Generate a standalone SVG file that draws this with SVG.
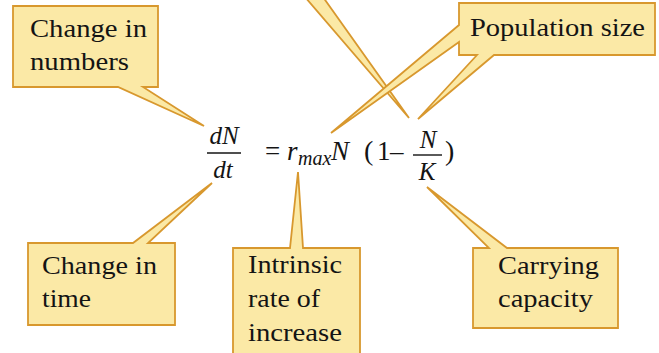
<svg xmlns="http://www.w3.org/2000/svg" width="659" height="353" viewBox="0 0 659 353">
<style>
.callout{fill:#fbe9a6;stroke:#d8982e;stroke-width:1.8;stroke-linejoin:miter}
text{font-family:'Liberation Serif',Tinos,'Noto Serif','DejaVu Serif',Times,FreeSerif,'Nimbus Roman',serif;fill:#141414}
.lbl{font-size:26px}
.i{font-style:italic}
.bar{stroke:#141414;stroke-width:1.4}
</style>
<rect width="659" height="353" fill="#ffffff"/>
<g id="connectors">
<path class="callout" d="M299,-10 L409,118 L318,-10 Z"/>
</g>
<g id="change-in-numbers">
<path class="callout" d="M13,6 H158 V87 H143 L204,126 L118,87 H13 Z"/>
<text class="lbl" x="30" y="37" textLength="117" lengthAdjust="spacingAndGlyphs">Change in</text>
<text class="lbl" x="30" y="70" textLength="99" lengthAdjust="spacingAndGlyphs">numbers</text>
</g>
<g id="population-size">
<path class="callout" d="M459,3 H655 V55 H494 L418,119 L477,55 H459 V42 L331,133 L459,25 Z"/>
<text class="lbl" x="470" y="36" textLength="175" lengthAdjust="spacingAndGlyphs">Population size</text>
</g>
<g id="change-in-time">
<path class="callout" d="M28,243 H133 L212,183 L148,243 H175 V325 H28 Z"/>
<text class="lbl" x="42" y="274" textLength="115" lengthAdjust="spacingAndGlyphs">Change in</text>
<text class="lbl" x="42" y="307" textLength="49" lengthAdjust="spacingAndGlyphs">time</text>
</g>
<g id="intrinsic-rate">
<path class="callout" d="M233,248 H290 L298,172 L303,248 H360 V362 H233 Z"/>
<text class="lbl" x="248" y="273" textLength="94" lengthAdjust="spacingAndGlyphs">Intrinsic</text>
<text class="lbl" x="248" y="307" textLength="72" lengthAdjust="spacingAndGlyphs">rate of</text>
<text class="lbl" x="248" y="341" textLength="94" lengthAdjust="spacingAndGlyphs">increase</text>
</g>
<g id="carrying-capacity">
<path class="callout" d="M473,248 H489 L427,187 L507,248 H618 V328 H473 Z"/>
<text class="lbl" x="498" y="274" textLength="101" lengthAdjust="spacingAndGlyphs">Carrying</text>
<text class="lbl" x="498" y="307" textLength="95" lengthAdjust="spacingAndGlyphs">capacity</text>
</g>
<g id="equation">
<text class="i" x="224" y="144" font-size="25" text-anchor="middle">dN</text>
<line class="bar" x1="207" y1="153" x2="241" y2="153"/>
<text class="i" x="223" y="178" font-size="25" text-anchor="middle">dt</text>
<text x="265" y="160" font-size="27">=</text>
<text class="i" x="287" y="160" font-size="27">r</text>
<text class="i" x="298" y="165" font-size="20">max</text>
<text class="i" x="331" y="160" font-size="27">N</text>
<text x="364" y="160" font-size="28">(</text>
<text x="377" y="160" font-size="27">1</text>
<text x="390" y="160" font-size="27">–</text>
<text class="i" x="428" y="148" font-size="25" text-anchor="middle">N</text>
<line class="bar" x1="413" y1="155" x2="442" y2="155"/>
<text class="i" x="427" y="180" font-size="25" text-anchor="middle">K</text>
<text x="445" y="160" font-size="28">)</text>
</g>
</svg>
